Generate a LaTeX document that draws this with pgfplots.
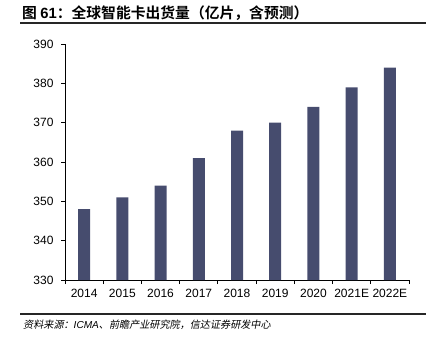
\documentclass[border=0pt]{standalone}
\usepackage{fontspec}
\setmainfont{Liberation Sans}
\newfontfamily\cjk{Noto Sans CJK SC}
\newfontfamily\cjkb{Noto Sans CJK SC Bold}
\newfontfamily\cjkit{Noto Sans CJK SC}[FakeSlant=0.2]
\usepackage{pgfplots}
\pgfplotsset{compat=1.18}
\definecolor{barc}{HTML}{464C6E}
\begin{document}
\begin{tikzpicture}[x=1pt,y=1pt]
\path[use as bounding box] (0,0) rectangle (438,341);
\begin{axis}[
  at={(65pt,61pt)}, anchor=south west,
  scale only axis, width=344pt, height=236pt,
  ymin=330, ymax=390, ytick={330,340,...,390},
  xmin=-0.5, xmax=8.5,
  xtick={0,...,8},
  xticklabels={2014,2015,2016,2017,2018,2019,2020,2021E,2022E},
  minor xtick={-0.5,0.5,...,8.5},
  major x tick style={draw=none},
  minor x tick style={draw=black, line width=0.8pt},
  ytick style={draw=black, line width=0.8pt},
  tick align=outside,
  major tick length=4pt, minor tick length=4pt,
  axis x line*=bottom, axis y line*=left,
  axis line style={line width=0.8pt, black},
  ticklabel style={font=\fontsize{12}{14}\selectfont, text=black},
  /pgf/number format/assume math mode=true,
  /pgf/number format/1000 sep={},
  yticklabel style={xshift=-4pt},
  xticklabel style={yshift=-2pt},
  ybar, bar width=12pt,
]
\addplot[fill=barc, draw=none] coordinates {
(0,348) (1,351) (2,354) (3,361) (4,368) (5,370) (6,374) (7,379) (8,384)};
\end{axis}
\draw[line width=2pt, black!85] (20,318.5) -- (426,318.5);
\draw[line width=2pt, black!85] (20,27) -- (426,27);
\node[anchor=west, inner sep=0pt] at (22,328) {\fontsize{14.8}{16}\selectfont\cjkb 图 \textbf{\rmfamily 61}：全球智能卡出货量（亿片，含预测）};
\node[anchor=west, inner sep=0pt] at (23,16) {\fontsize{10.1}{12}\selectfont\cjkit 资料来源：{\rmfamily\itshape ICMA}、前瞻产业研究院，信达证券研发中心};
\end{tikzpicture}
\end{document}
